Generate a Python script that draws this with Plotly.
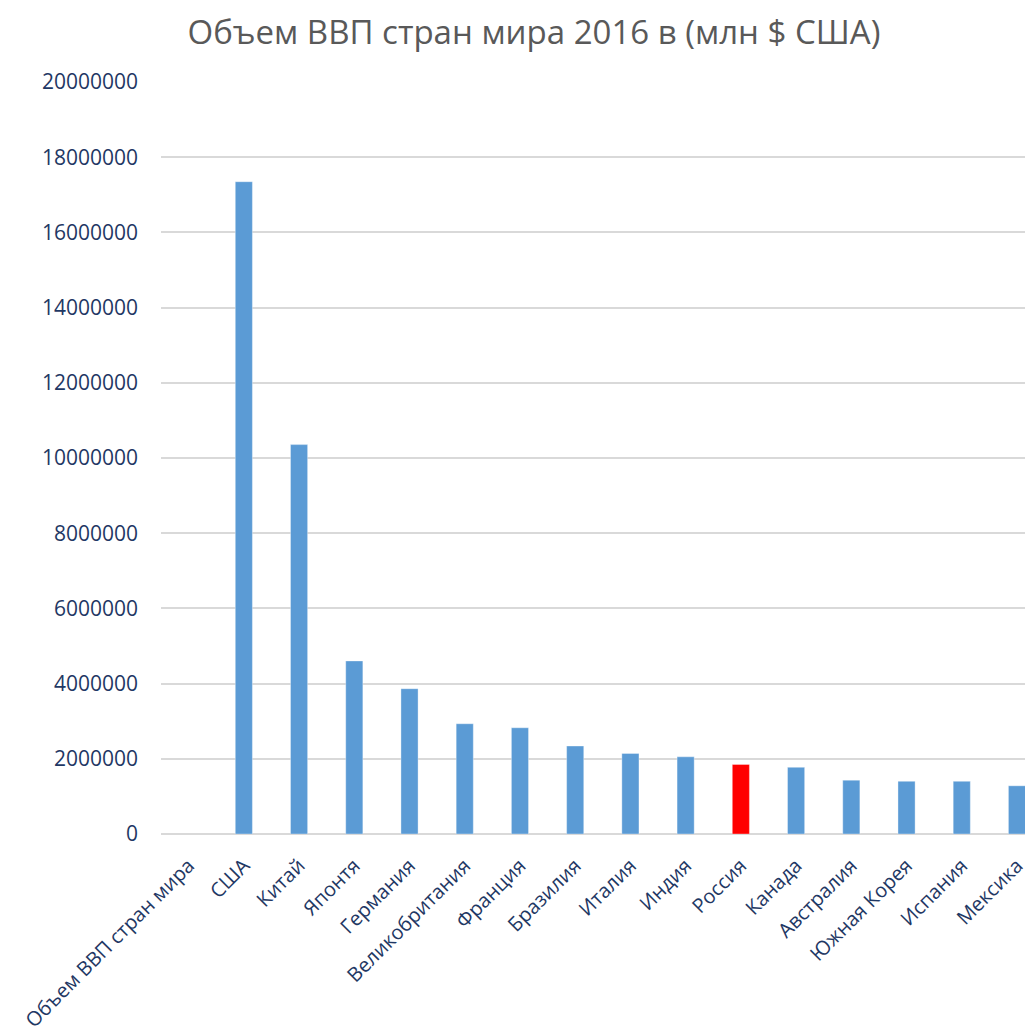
import plotly.graph_objects as go

categories = ["Объем ВВП стран мира", "США", "Китай", "Японтя", "Германия",
              "Великобритания", "Франция", "Бразилия", "Италия", "Индия",
              "Россия", "Канада", "Австралия", "Южная Корея", "Испания", "Мексика"]
gdp_values = [None, 17348000, 10356000, 4602000, 3864000, 2932000, 2825000,
              2340000, 2142000, 2052000, 1850000, 1772000, 1432000, 1400000,
              1400000, 1282000]
y_ticks = [0, 2000000, 4000000, 6000000, 8000000, 10000000, 12000000,
           14000000, 16000000, 18000000, 20000000]
highlight = "Россия"

bar_colors = ["#FF0000" if c == highlight else "#5B9BD5" for c in categories]

FONT = "Open Sans"
NAVY = "#1F3864"

fig = go.Figure(go.Bar(
    x=categories, y=gdp_values,
    marker=dict(color=bar_colors, line=dict(color="rgba(255,255,255,0.35)", width=1)),
))

# the page body adds an 8px offset; margins compensate for it
fig.update_layout(
    width=1033, height=1030,
    margin=dict(l=153, r=8, t=74, b=203.5, pad=0, autoexpand=False),
    paper_bgcolor="white", plot_bgcolor="white",
    bargap=0.69,
    showlegend=False,
    title=dict(text="Объем ВВП стран мира 2016 в (млн $ США)",
               font=dict(family=FONT, size=33, color="#595959"),
               x=526 / 1033, xref="container", xanchor="center",
               y=1 - 24 / 1030, yref="container", yanchor="middle"),
    font=dict(family=FONT, color=NAVY),
)

fig.update_xaxes(
    type="category", range=[-0.5, 15.29], automargin=False,
    tickangle=-45, tickfont=dict(family=FONT, size=20, color=NAVY),
    showgrid=False, showline=False, ticks="", ticklabelstandoff=15,
)

fig.update_yaxes(
    range=[0, 20000000], tickvals=y_ticks, automargin=False,
    ticktext=[str(v) for v in y_ticks],
    tickfont=dict(family=FONT, size=21, color=NAVY),
    showgrid=True, gridcolor="#D9D9D9", gridwidth=1.5,
    zeroline=True, zerolinecolor="#D9D9D9", zerolinewidth=1.5,
    showline=False, ticks="", ticklabelstandoff=22,
)

fig.write_html("out.html")
